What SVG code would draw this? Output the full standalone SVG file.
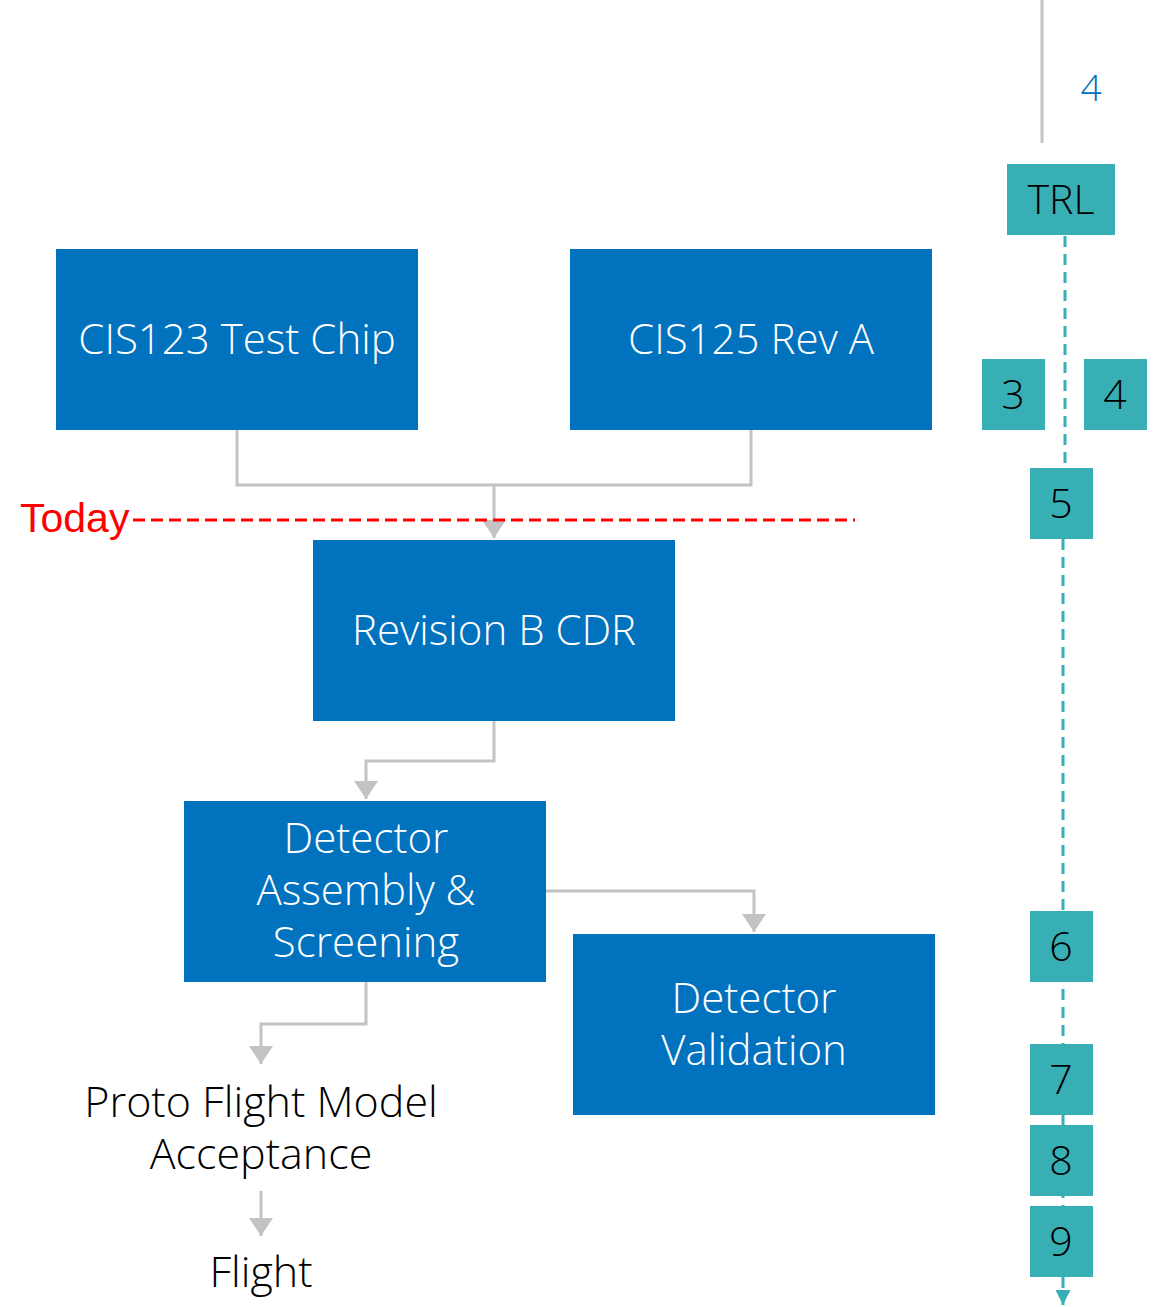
<svg xmlns="http://www.w3.org/2000/svg" width="1158" height="1307" viewBox="0 0 1158 1307">
<defs>
<style>
.box{fill:#0072BE}
.bt{font-family:"Open Sans","Noto Sans",sans-serif;font-weight:300;font-size:42px;fill:#fff;text-anchor:middle}
.bk{font-family:"Open Sans","Noto Sans",sans-serif;font-weight:300;font-size:43px;fill:#000;text-anchor:middle}
.tl{fill:#38AFB5}
.tt{font-family:"Open Sans","Noto Sans",sans-serif;font-weight:300;font-size:41px;fill:#000;text-anchor:middle}
.con{fill:none;stroke:#C3C3C3;stroke-width:3}
.tdash{fill:none;stroke:#38AFB5;stroke-width:3;stroke-dasharray:11 7}
</style>
<marker id="ag" markerWidth="8" markerHeight="8" refX="6" refY="4" orient="auto" markerUnits="strokeWidth"><path d="M0,0 L6,4 L0,8 z" fill="#C3C3C3"/></marker>
<marker id="at" markerWidth="6" markerHeight="6" refX="5" refY="2.5" orient="auto" markerUnits="strokeWidth"><path d="M0,0 L5,2.5 L0,5 z" fill="#38AFB5"/></marker>
</defs>
<g id="connectors">
<path class="con" d="M237,430 V485 H751 V430"/>
<path class="con" d="M494,485 V538" marker-end="url(#ag)"/>
<path class="con" d="M494,721 V761 H366 V799" marker-end="url(#ag)"/>
<path class="con" d="M546,891 H754 V932" marker-end="url(#ag)"/>
<path class="con" d="M366,982 V1024 H261 V1064" marker-end="url(#ag)"/>
<path class="con" d="M261,1191 V1236" marker-end="url(#ag)"/>
<path class="con" d="M1042,0 V143"/>
<path class="tdash" d="M1065,236 V468"/>
<path class="tdash" d="M1063,539 V1305" marker-end="url(#at)"/>
</g>
<g id="today">
<text x="20" y="532" font-family="Liberation Sans Narrow, Liberation Sans, sans-serif" font-size="41" fill="#FF0000">Today</text>
<line x1="133" y1="520" x2="855" y2="520" stroke="#FF0000" stroke-width="3" stroke-dasharray="12 6"/>
</g>
<g id="cis123"><rect class="box" x="56" y="249" width="362" height="181"/><text class="bt" x="237" y="354">CIS123 Test Chip</text></g>
<g id="cis125"><rect class="box" x="570" y="249" width="362" height="181"/><text class="bt" x="751" y="354">CIS125 Rev A</text></g>
<g id="revb"><rect class="box" x="313" y="540" width="362" height="181"/><text class="bt" x="494" y="645">Revision B CDR</text></g>
<g id="assembly"><rect class="box" x="184" y="801" width="362" height="181"/><text class="bt" x="366" y="853">Detector<tspan x="366" dy="52">Assembly &amp;</tspan><tspan x="366" dy="52">Screening</tspan></text></g>
<g id="validation"><rect class="box" x="573" y="934" width="362" height="181"/><text class="bt" x="754" y="1013">Detector<tspan x="754" dy="52">Validation</tspan></text></g>
<g id="pfm"><text class="bk" x="261" y="1117">Proto Flight Model<tspan x="261" dy="52">Acceptance</tspan></text></g>
<g id="flight"><text class="bk" x="261" y="1287">Flight</text></g>
<g id="trl4"><text x="1091" y="101" font-family="Open Sans, sans-serif" font-weight="300" font-size="37" fill="#0070C0" text-anchor="middle">4</text></g>
<g id="trl"><rect class="tl" x="1007" y="164" width="108" height="71"/><text class="tt" x="1061" y="214">TRL</text></g>
<g id="t3"><rect class="tl" x="982" y="359" width="63" height="71"/><text class="tt" x="1013" y="409">3</text></g>
<g id="t4"><rect class="tl" x="1084" y="359" width="63" height="71"/><text class="tt" x="1115" y="409">4</text></g>
<g id="t5"><rect class="tl" x="1030" y="468" width="63" height="71"/><text class="tt" x="1061" y="518">5</text></g>
<g id="t6"><rect class="tl" x="1030" y="911" width="63" height="71"/><text class="tt" x="1061" y="961">6</text></g>
<g id="t7"><rect class="tl" x="1030" y="1044" width="63" height="71"/><text class="tt" x="1061" y="1094">7</text></g>
<g id="t8"><rect class="tl" x="1030" y="1125" width="63" height="71"/><text class="tt" x="1061" y="1175">8</text></g>
<g id="t9"><rect class="tl" x="1030" y="1206" width="63" height="71"/><text class="tt" x="1061" y="1256">9</text></g>
</svg>
